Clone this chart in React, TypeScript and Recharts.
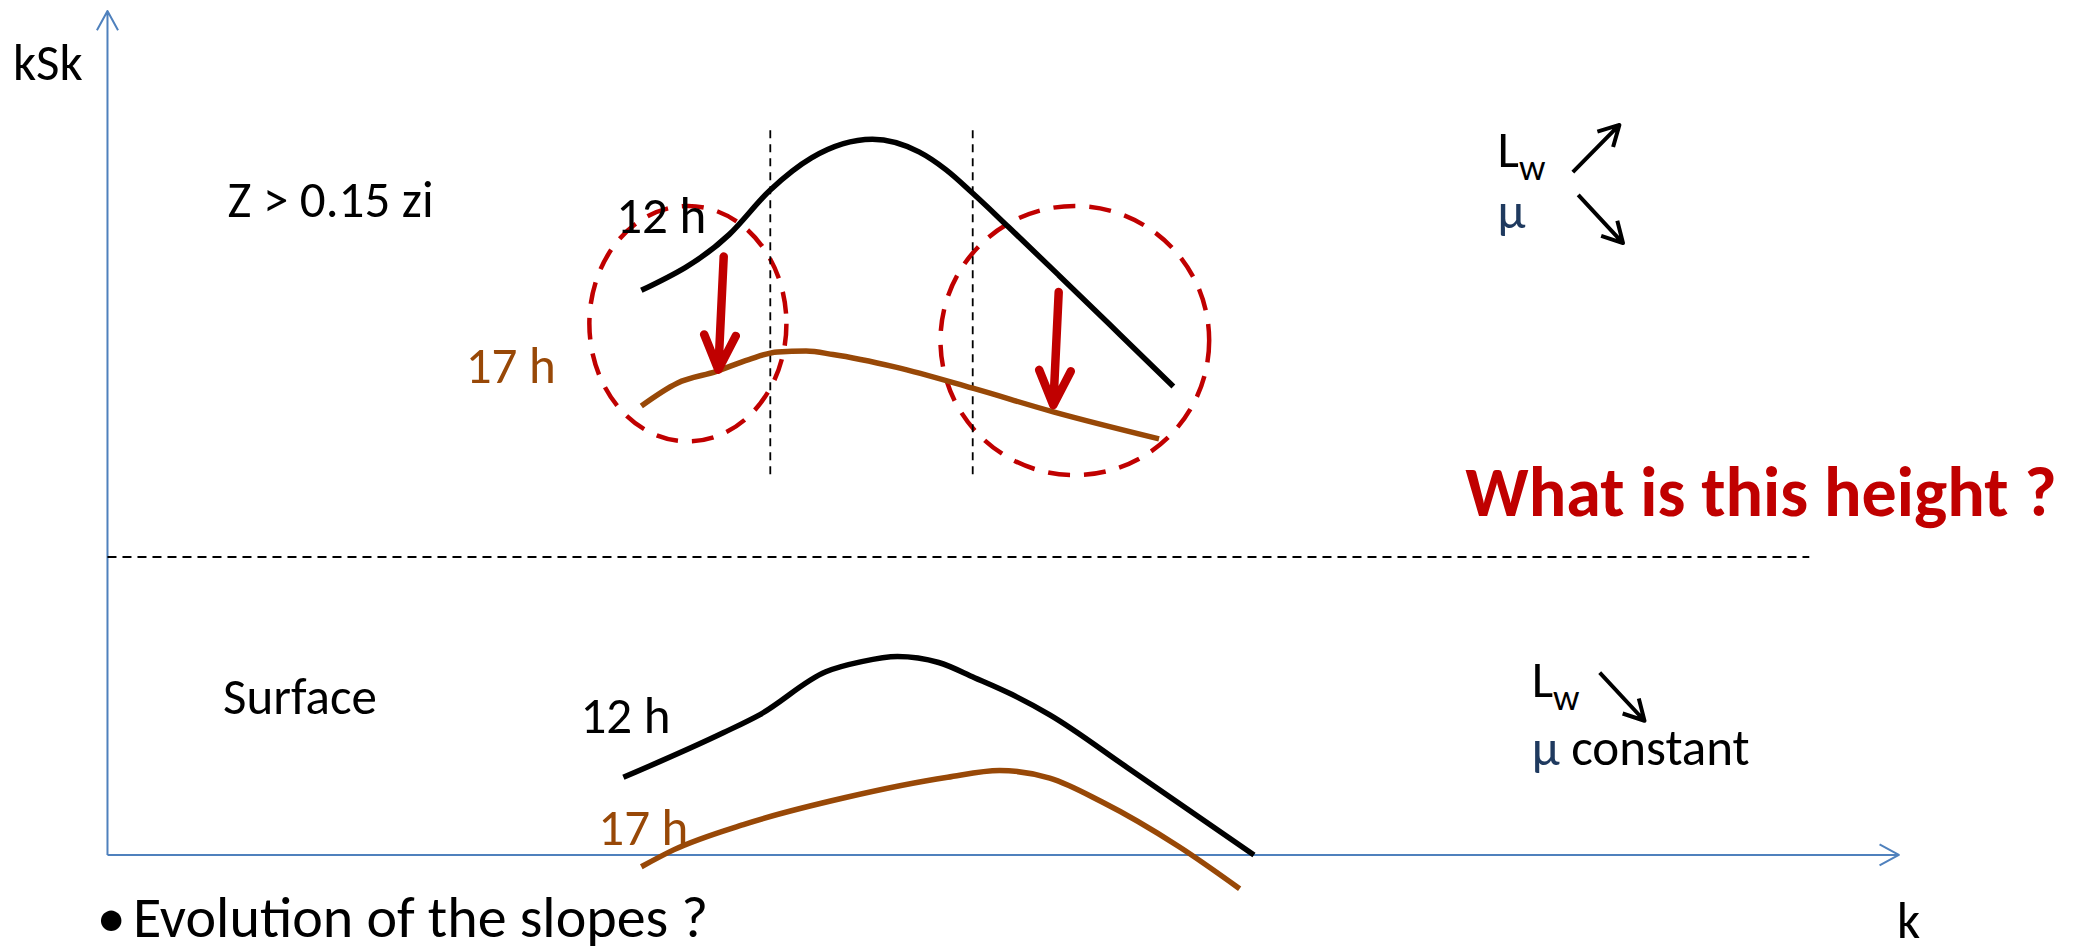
import React from "react";
import {
  ComposedChart,
  Line,
  XAxis,
  YAxis,
  ReferenceLine,
  ReferenceDot,
  ReferenceArea,
} from "recharts";

const WIDTH = 2078;
const HEIGHT = 952;
const FONT = "Calibri, Carlito, Lato, sans-serif";

const AXIS_BLUE = "#4F81BD";
const BROWN = "#984807";
const RED = "#C00000";
const NAVY = "#1F3A5F";

// k (wavenumber) / kSk (spectrum) in arbitrary units, axes run 0..100
const K_DOMAIN = [-6, 110];
const S_DOMAIN = [-11.5, 101.3];

// upper level: Z > 0.15 zi
const upperK12 = [29.8, 34.7, 37.0, 39.3, 42.7, 45.3, 46.8, 48.3, 50.3, 53.1, 56.5, 59.5];
const upperS12 = [66.9, 73.5, 78.8, 82.6, 84.8, 83.3, 81.2, 78.4, 74.4, 68.7, 61.7, 55.5];
const upperK17 = [29.8, 31.8, 34.0, 35.8, 37.4, 39.0, 40.5, 44.0, 48.3, 52.8, 58.7];
const upperS17 = [53.2, 55.9, 57.3, 58.7, 59.6, 59.7, 59.3, 57.8, 55.3, 52.5, 49.3];

// surface level
const surfK12 = [28.8, 34.4, 36.4, 40.1, 42.1, 44.1, 46.4, 48.4, 50.5, 52.6, 56.9, 64.0];
const surfS12 = [9.2, 14.5, 16.6, 21.7, 22.9, 23.5, 22.8, 21.0, 19.0, 16.6, 10.4, 0.0];
const surfK17 = [29.8, 31.6, 35.5, 41.2, 46.9, 49.8, 52.6, 55.5, 59.8, 63.2];
const surfS17 = [-1.4, 0.6, 3.6, 6.8, 9.2, 10.0, 9.1, 6.3, 1.0, -4.0];

// spectral peak markers and the level separating the two panels
const peakBounds = [37.0, 48.3];
const peakBandS = [45.1, 86.1];
const separatorS = 35.3;
const separatorEnd = 95;

// dashed circles around the low-k and high-k parts of the spectra: [k1, k2, s1, s2]
const circles = [
  [26.9, 37.9, 49.0, 76.9],
  [46.5, 61.5, 45.0, 76.9],
];

// red arrows 12 h -> 17 h: [kFrom, sFrom, kTo, sTo]
const dropArrows = [
  [34.4, 70.9, 34.1, 57.5],
  [53.1, 66.7, 52.8, 53.3],
];

// trend arrows next to Lw / mu
const trendArrows = [
  [81.8, 80.9, 84.4, 86.5],
  [82.1, 78.2, 84.6, 72.5],
  [83.3, 21.6, 85.8, 15.9],
];

const zip = (k: number[], s: number[]) => k.map((x, i) => ({ k: x, s: s[i] }));

function arrowShape(color: string, width: number, head: number, spread: number, cap: "round" | "butt") {
  return (p: any) => {
    const { x1, y1, x2, y2 } = p;
    const ang = Math.atan2(y2 - y1, x2 - x1);
    const a1 = ang + Math.PI - spread;
    const a2 = ang + Math.PI + spread;
    const d =
      `M${x1},${y1}L${x2},${y2}` +
      `M${x2 + head * Math.cos(a1)},${y2 + head * Math.sin(a1)}L${x2},${y2}` +
      `L${x2 + head * Math.cos(a2)},${y2 + head * Math.sin(a2)}`;
    return (
      <path d={d} fill="none" stroke={color} strokeWidth={width} strokeLinecap={cap} strokeLinejoin="round" />
    );
  };
}

const ellipseShape = (p: any) => (
  <ellipse
    cx={p.x + p.width / 2}
    cy={p.y + p.height / 2}
    rx={p.width / 2}
    ry={p.height / 2}
    fill="none"
    stroke={RED}
    strokeWidth={4.5}
    strokeDasharray="22 14"
  />
);

const label = (
  key: string,
  k: number,
  s: number,
  content: React.ReactNode,
  style: React.CSSProperties = {}
) => (
  <ReferenceDot
    key={key}
    x={k}
    y={s}
    r={0}
    shape={(p: any) => (
      <text x={p.cx} y={p.cy} style={{ fontFamily: FONT, fontSize: 51, fill: "#000", ...style }}>
        {content}
      </text>
    )}
  />
);

const lw = (
  <>
    <tspan>L</tspan>
    <tspan dy={13} style={{ fontSize: 37 }}>
      w
    </tspan>
  </>
);

export default function App() {
  const curve = (key: string, k: number[], s: number[], color: string) => (
    <Line
      key={key}
      data={zip(k, s)}
      dataKey="s"
      type="monotone"
      stroke={color}
      strokeWidth={5.5}
      dot={false}
      activeDot={false}
      isAnimationActive={false}
    />
  );

  return (
    <div style={{ position: "absolute", left: 0, top: 0, width: WIDTH, height: HEIGHT, background: "#fff" }}>
      <ComposedChart width={WIDTH} height={HEIGHT} margin={{ top: 0, right: 0, bottom: 0, left: 0 }}>
        <XAxis dataKey="k" type="number" domain={K_DOMAIN} allowDataOverflow hide />
        <YAxis type="number" domain={S_DOMAIN} allowDataOverflow hide />

        {/* axes with open arrow heads */}
        <ReferenceLine
          segment={[{ x: 0, y: 0 }, { x: 0, y: 100 }]}
          shape={arrowShape(AXIS_BLUE, 2, 22, 0.5, "butt")}
        />
        <ReferenceLine
          segment={[{ x: 0, y: 0 }, { x: 100, y: 0 }]}
          shape={arrowShape(AXIS_BLUE, 2, 22, 0.5, "butt")}
        />

        {/* separator between the two levels */}
        <ReferenceLine
          segment={[{ x: 0, y: separatorS }, { x: separatorEnd, y: separatorS }]}
          stroke="#000"
          strokeWidth={1.8}
          strokeDasharray="9 6"
        />
        {peakBounds.map((k) => (
          <ReferenceLine
            key={`pb-${k}`}
            segment={[{ x: k, y: peakBandS[0] }, { x: k, y: peakBandS[1] }]}
            stroke="#000"
            strokeWidth={1.8}
            strokeDasharray="8 6"
          />
        ))}

        {curve("u12", upperK12, upperS12, "#000")}
        {curve("u17", upperK17, upperS17, BROWN)}
        {curve("s12", surfK12, surfS12, "#000")}
        {curve("s17", surfK17, surfS17, BROWN)}

        {circles.map(([k1, k2, s1, s2], i) => (
          <ReferenceArea key={`c-${i}`} x1={k1} x2={k2} y1={s1} y2={s2} shape={ellipseShape} />
        ))}

        {dropArrows.map(([a, b, c, d], i) => (
          <ReferenceLine
            key={`d-${i}`}
            segment={[{ x: a, y: b }, { x: c, y: d }]}
            shape={arrowShape(RED, 8.5, 38, 0.43, "round")}
          />
        ))}
        {trendArrows.map(([a, b, c, d], i) => (
          <ReferenceLine
            key={`t-${i}`}
            segment={[{ x: a, y: b }, { x: c, y: d }]}
            shape={arrowShape("#000", 4, 23, 0.5, "butt")}
          />
        ))}

        {label("ksk", -5.28, 91.8, "kSk")}
        {label("k", 99.9, -9.9, "k")}
        {label("zlev", 6.7, 75.6, "Z > 0.15 zi")}
        {label("u12", 28.4, 73.7, "12 h")}
        {label("u17", 20.0, 55.9, "17 h", { fill: BROWN })}
        {label("surf", 6.45, 16.7, "Surface")}
        {label("s12", 26.4, 14.45, "12 h")}
        {label("s17", 27.4, 1.2, "17 h", { fill: BROWN })}
        {label("q", 75.8, 40.2, "What is this height ?", { fill: RED, fontWeight: 700, fontSize: 70 })}
        {label("lw1", 77.6, 81.5, lw)}
        {label("mu1", 77.6, 74.3, "μ", { fill: NAVY })}
        {label("lw2", 79.5, 18.7, lw)}
        {label(
          "mu2",
          79.5,
          10.7,
          <>
            <tspan style={{ fill: NAVY }}>μ</tspan>
            <tspan> constant</tspan>
          </>
        )}
        {label("bullet", -0.6, -9.7, "•", { fontSize: 58 })}
        {label("slopes", 1.42, -9.7, "Evolution of the slopes ?", { fontSize: 58 })}
      </ComposedChart>
    </div>
  );
}
